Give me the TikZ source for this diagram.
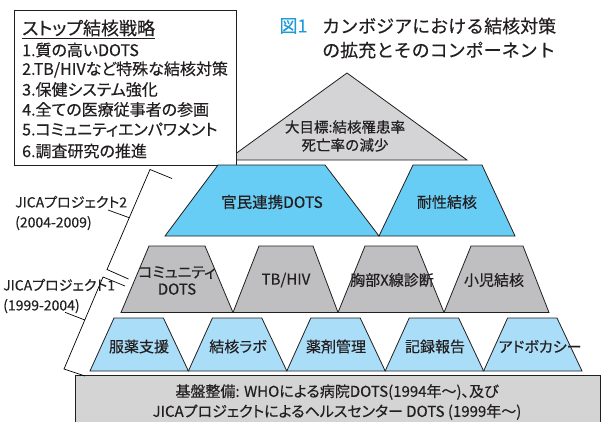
\documentclass[tikz,border=0pt]{standalone}
\usepackage{fontspec}
\setmainfont{Noto Sans CJK JP}[FakeBold=0.35]
\newfontfamily\jpp[RawFeature=+palt,FakeBold=0.35]{Noto Sans CJK JP}
\usetikzlibrary{calc}
\definecolor{blueA}{RGB}{104,205,244}
\definecolor{blueB}{RGB}{170,222,248}
\definecolor{grayR}{RGB}{191,191,193}
\definecolor{grayT}{RGB}{212,212,214}
\definecolor{grayBase}{RGB}{212,212,212}
\definecolor{titleblue}{RGB}{30,155,215}
\definecolor{txt}{RGB}{35,31,32}
\definecolor{edgec}{RGB}{35,31,32}
\begin{document}
\begin{tikzpicture}[x=1pt,y=-1pt,
  shapeedge/.style={draw=edgec, line width=0.8pt, line join=miter},
  lbl/.style={inner sep=0pt, text=txt},
  brk/.style={draw=black, line width=0.7pt},
  rowtext/.style={lbl, font=\jpp\fontsize{15}{17}\selectfont},
  strline/.style={lbl, anchor=west, font=\jpp\fontsize{16}{18}\selectfont},
  jica/.style={lbl, anchor=west, align=left, font=\jpp\fontsize{14}{20}\selectfont}]
\useasboundingbox (0,0) rectangle (601,421);
\fill[white] (0,0) rectangle (601,421);

% ---- top triangle
\coordinate (apex) at (347,73);
\coordinate (triR) at (467,160);
\coordinate (triL) at (227,160);
\filldraw[fill=grayT, shapeedge] (apex) -- (triR) -- (triL) -- cycle;
\node[lbl, align=center, font=\fontsize{14.5}{18}\selectfont] (goal) at (345,136) {大目標:結核罹患率\\死亡率の減少};

% ---- strategy box
\node[draw=edgec, line width=1.2pt, fill=white, minimum width=222pt, minimum height=155pt, anchor=north west, inner sep=0pt] (strat) at (14,10) {};
\node[lbl, anchor=west, font=\jpp\fontsize{18}{20}\selectfont] (sttl) at (22,29) {\underline{ストップ結核戦略}};
\node[strline] (s1) at (22,50) {1.質の高いDOTS};
\node[strline] (s2) at (22,69.5) {2.TB/HIVなど特殊な結核対策};
\node[strline] (s3) at (22,89.5) {3.保健システム強化};
\node[strline] (s4) at (22,109.5) {4.全ての医療従事者の参画};
\node[strline] (s5) at (22,129.5) {5.コミュニティエンパワメント};
\node[strline] (s6) at (22,151) {6.調査研究の推進};

% ---- title
\node[lbl, text=titleblue, font=\fontsize{18}{20}\selectfont] (fig) at (293.5,26) {図1};
\node[lbl, anchor=west, font=\fontsize{18}{20}\selectfont] (ttl1) at (322,26) {カンボジアにおける結核対策};
\node[lbl, anchor=west, font=\fontsize{18}{20}\selectfont] (ttl2) at (322,50) {の拡充とそのコンポーネント};

% ---- row 2
\filldraw[fill=blueA, shapeedge] (218,165) -- (325,165) -- (379,236) -- (165,236) -- cycle;
\filldraw[fill=blueA, shapeedge] (413,165) -- (482,165) -- (515,236) -- (379,236) -- cycle;
\node[rowtext, font=\fontsize{15.5}{17}\selectfont] (ppm) at (272,202) {官民連携DOTS};
\node[rowtext] (mdr) at (447,202) {耐性結核};

% ---- row 3
\foreach \a/\b/\c/\d in {149/205/233/121, 259/313/338/233, 365/417/444/338, 471/523/549/444}
  \filldraw[fill=grayR, shapeedge] (\a,246) -- (\b,246) -- (\c,312.5) -- (\d,312.5) -- cycle;
\node[rowtext, align=center, font=\jpp\fontsize{15}{17}\selectfont] (cdots) at (177,280.5) {コミュニティ\\DOTS};
\node[rowtext] (tbhiv) at (286,280) {TB/HIV};
\node[rowtext] (xray) at (392,280) {胸部X線診断};
\node[rowtext] (child) at (494,280) {小児結核};

% ---- row 4
\foreach \i in {0,...,4} {
  \pgfmathsetmacro{\xl}{90+98.4*\i}
  \pgfmathsetmacro{\xr}{90+98.4*(\i+1)}
  \filldraw[fill=blueB, shapeedge] (\xl+24,318) -- (\xr-25,318) -- (\xr,371) -- (\xl,371) -- cycle;
}
\node[rowtext] (dot) at (139,346.5) {服薬支援};
\node[rowtext] (lab) at (238,346.5) {結核ラボ};
\node[rowtext] (drug) at (336,346.5) {薬剤管理};
\node[rowtext] (rec) at (435,346.5) {記録報告};
\node[rowtext] (adv) at (540,346.5) {アドボカシー};

% ---- base
\filldraw[fill=grayBase, shapeedge] (75,375) rectangle (600,426);
\node[lbl, align=center, font=\jpp\fontsize{15}{20}\selectfont] (base) at (337,402) {基盤整備: WHOによる病院DOTS(1994年～)、及び\\JICAプロジェクトによるヘルスセンター DOTS (1999年～)};

% ---- brackets
\coordinate (b2t) at (150,169.5);
\coordinate (b2tt) at (172,178.5);
\coordinate (b2b) at (107,269.5);
\coordinate (b2bt) at (128.5,279);
\draw[brk] (b2tt) -- (b2t) -- (b2b) -- (b2bt);
\coordinate (b1t) at (103,277);
\coordinate (b1tt) at (125,286);
\coordinate (b1b) at (64,369);
\coordinate (b1bt) at (85,376);
\draw[brk] (b1tt) -- (b1t) -- (b1b) -- (b1bt);

\node[jica] (j2) at (15,213) {JICAプロジェクト2\\(2004-2009)};
\node[jica] (j1) at (3,296) {JICAプロジェクト1\\(1999-2004)};
\coordinate (l2s) at (108,210);
\coordinate (l1s) at (65,312.3);
\draw[brk] (l2s) -- ($(b2t)!0.482!(b2b)$);
\draw[brk] (l1s) -- ($(b1t)!0.467!(b1b)$);
\end{tikzpicture}
\end{document}
